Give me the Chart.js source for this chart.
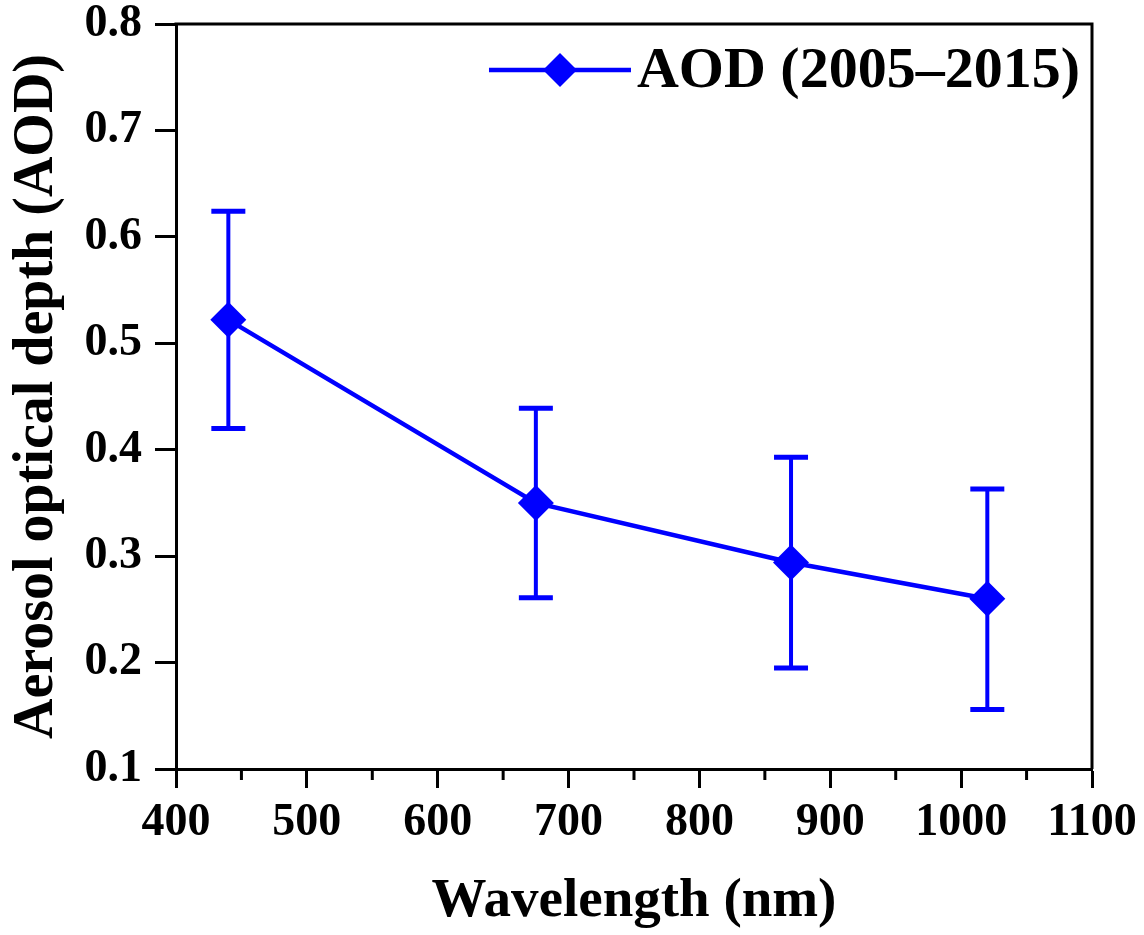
<!DOCTYPE html>
<html>
<head>
<meta charset="utf-8">
<script src="https://cdn.jsdelivr.net/npm/chart.js@4.4.0/dist/chart.umd.min.js"></script>
<style>
  html, body { margin: 0; padding: 0; background: #fff; }
  #wrap { width: 1144px; height: 935px; }
</style>
</head>
<body>
<div id="wrap"><canvas id="aodChart" width="1144" height="935"></canvas></div>
<script>
// AOD spectrum, values
var wavelengths = [440, 675, 870, 1020];
var aodMean = [0.522, 0.350, 0.294, 0.260];
var aodLow = [0.420, 0.261, 0.195, 0.156];
var aodHigh = [0.624, 0.439, 0.393, 0.363];
var seriesLabel = "AOD (2005\u20132015)";

var xTicks = [400, 500, 600, 700, 800, 900, 1000, 1100];
var xMinorTicks = [450, 550, 650, 750, 850, 950, 1050];
var yTicks = [0.1, 0.2, 0.3, 0.4, 0.5, 0.6, 0.7, 0.8];

var BLUE = "#0000ff";
var FONT = "'Liberation Serif', 'Times New Roman', serif";

Chart.defaults.font.family = FONT;
Chart.defaults.font.weight = "bold";
Chart.defaults.color = "#000";

// error bars drawn under the line and markers
var errorBars = {
  id: "errorBars",
  beforeDatasetsDraw: function (chart) {
    var ctx = chart.ctx;
    var xs = chart.scales.x;
    var ys = chart.scales.y;
    ctx.save();
    ctx.strokeStyle = BLUE;
    for (var i = 0; i < wavelengths.length; i++) {
      var px = xs.getPixelForValue(wavelengths[i]);
      var top = ys.getPixelForValue(aodHigh[i]);
      var bot = ys.getPixelForValue(aodLow[i]);
      ctx.lineWidth = 4;
      ctx.beginPath();
      ctx.moveTo(px, top);
      ctx.lineTo(px, bot);
      ctx.stroke();
      ctx.lineWidth = 5;
      ctx.beginPath();
      ctx.moveTo(px - 17, top);
      ctx.lineTo(px + 17, top);
      ctx.moveTo(px - 17, bot);
      ctx.lineTo(px + 17, bot);
      ctx.stroke();
    }
    ctx.restore();
  }
};

// closed box + minor ticks on the x axis
var frame = {
  id: "frame",
  afterDraw: function (chart) {
    var ctx = chart.ctx;
    var a = chart.chartArea;
    var xs = chart.scales.x;
    ctx.save();
    ctx.strokeStyle = "#000";
    ctx.lineWidth = 3;
    ctx.beginPath();
    ctx.moveTo(a.left - 1.5, a.top);
    ctx.lineTo(a.right, a.top);
    ctx.lineTo(a.right, a.bottom);
    ctx.stroke();
    ctx.beginPath();
    xMinorTicks.forEach(function (v) {
      var px = xs.getPixelForValue(v);
      ctx.moveTo(px, a.bottom);
      ctx.lineTo(px, a.bottom + 11);
    });
    ctx.stroke();
    ctx.restore();
  }
};

// legend inside the plot, top right: line + diamond + label
var legendBox = {
  id: "legendBox",
  afterDraw: function (chart) {
    var ctx = chart.ctx;
    var a = chart.chartArea;
    var ds = chart.data.datasets[0];
    ctx.save();
    ctx.font = "bold 58px " + FONT;
    ctx.fillStyle = "#000";
    ctx.textBaseline = "middle";
    var w = ctx.measureText(ds.label).width;
    var tx = a.right - 12 - w;
    var ty = a.top + 46;
    ctx.fillText(ds.label, tx, ty + 2);
    var x1 = tx - 148, x2 = tx - 6, cx = (x1 + x2) / 2;
    ctx.strokeStyle = BLUE;
    ctx.lineWidth = 4.5;
    ctx.beginPath();
    ctx.moveTo(x1, ty);
    ctx.lineTo(x2, ty);
    ctx.stroke();
    ctx.fillStyle = BLUE;
    ctx.beginPath();
    ctx.moveTo(cx, ty - 17);
    ctx.lineTo(cx + 17, ty);
    ctx.lineTo(cx, ty + 17);
    ctx.lineTo(cx - 17, ty);
    ctx.closePath();
    ctx.fill();
    ctx.restore();
  }
};

var ctx = document.getElementById("aodChart").getContext("2d");

var aodChart = new Chart(ctx, {
  type: "line",
  data: {
    datasets: [
      {
        label: seriesLabel,
        data: wavelengths.map(function (w, i) { return { x: w, y: aodMean[i] }; }),
        borderColor: BLUE,
        backgroundColor: BLUE,
        borderWidth: 4.5,
        pointStyle: "rectRot",
        pointRadius: 18,
        pointBackgroundColor: BLUE,
        pointBorderWidth: 0,
        tension: 0,
        fill: false
      }
    ]
  },
  options: {
    responsive: false,
    animation: false,
    devicePixelRatio: 1,
    layout: { padding: { top: 24, right: 52, left: 0, bottom: 0 } },
    plugins: {
      legend: { display: false },
      tooltip: { enabled: false }
    },
    scales: {
      x: {
        type: "linear",
        min: 400,
        max: 1100,
        afterBuildTicks: function (s) {
          s.ticks = xTicks.map(function (v) { return { value: v }; });
        },
        afterFit: function (s) {
          s.height = 166;
          s.paddingLeft = 0;
          s.paddingRight = 0;
        },
        ticks: {
          font: { size: 46, weight: "bold" },
          color: "#000",
          padding: 8,
          maxRotation: 0,
          autoSkip: false,
          callback: function (v) { return String(v); }
        },
        grid: {
          drawOnChartArea: false,
          drawTicks: true,
          tickLength: 19,
          tickWidth: 3,
          tickColor: "#000"
        },
        border: { display: true, color: "#000", width: 3 },
        title: {
          display: true,
          text: "Wavelength (nm)",
          font: { size: 55, weight: "bold" },
          color: "#000",
          padding: { top: 0, bottom: 0 }
        }
      },
      y: {
        type: "linear",
        min: 0.1,
        max: 0.8,
        afterBuildTicks: function (s) {
          s.ticks = yTicks.map(function (v) { return { value: v }; });
        },
        afterFit: function (s) {
          s.width = 176;
          s.paddingTop = 0;
          s.paddingBottom = 0;
        },
        ticks: {
          font: { size: 46, weight: "bold" },
          color: "#000",
          padding: 13,
          callback: function (v) { return Number(v).toFixed(1); }
        },
        grid: {
          drawOnChartArea: false,
          drawTicks: true,
          tickLength: 21,
          tickWidth: 3,
          tickColor: "#000"
        },
        border: { display: true, color: "#000", width: 3 },
        title: {
          display: true,
          text: "Aerosol optical depth (AOD)",
          font: { size: 56, weight: "bold" },
          color: "#000",
          padding: { top: 4, bottom: 0 }
        }
      }
    }
  },
  plugins: [errorBars, frame, legendBox]
});
</script>
</body>
</html>
